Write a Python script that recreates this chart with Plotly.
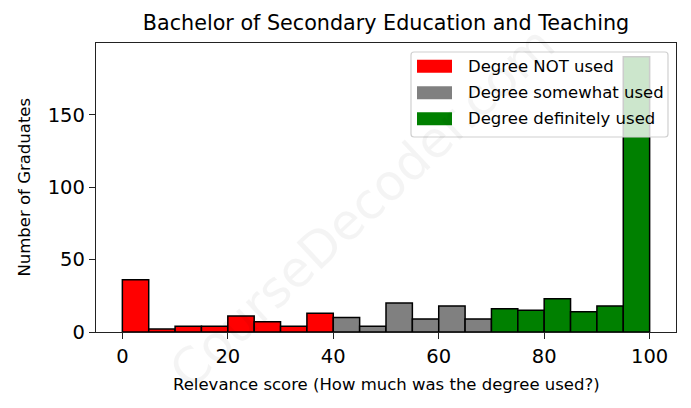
import plotly.graph_objects as go

bin_starts = [0, 5, 10, 15, 20, 25, 30, 35, 40, 45, 50, 55, 60, 65, 70, 75, 80, 85, 90, 95]
counts = [36, 2, 4, 4, 11, 7, 4, 13, 10, 4, 20, 9, 18, 9, 16, 15, 23, 14, 18, 190]
bin_width = 5
categories = ["Degree NOT used", "Degree somewhat used", "Degree definitely used"]
cat_colors = ["red", "gray", "green"]
cat_bounds = [(0, 40), (40, 70), (70, 100)]
x_ticks = [0, 20, 40, 60, 80, 100]
y_ticks = [0, 50, 100, 150]

OFF = 8  # page body margin in the browser
W, H = 691 - OFF, 408 - OFF
# plot area in reference-screen pixels
SL, SR, ST, SB = 96, 676, 43, 332
L, R, T, B = SL - OFF, SR - OFF, ST - OFF, SB - OFF
PW, PH = R - L, B - T


def px(X):
    return (X - SL) / PW


def py(Y):
    return (SB - Y) / PH


fig = go.Figure()
for name, color, (lo, hi) in zip(categories, cat_colors, cat_bounds):
    xs = [s + bin_width / 2 for s in bin_starts if lo <= s < hi]
    ys = [c for s, c in zip(bin_starts, counts) if lo <= s < hi]
    fig.add_trace(go.Bar(x=xs, y=ys, width=bin_width, name=name,
                         marker=dict(color=color, line=dict(color="black", width=1.5)),
                         showlegend=False))

font_family = "DejaVu Sans"

# manual legend (matplotlib-style)
shapes = []
annotations = []
x0, x1, y0, y1 = 411, 668, 52, 137
r = 3
path = (f"M{px(x0 + r)},{py(y0)} L{px(x1 - r)},{py(y0)} Q{px(x1)},{py(y0)} {px(x1)},{py(y0 + r)} "
        f"L{px(x1)},{py(y1 - r)} Q{px(x1)},{py(y1)} {px(x1 - r)},{py(y1)} "
        f"L{px(x0 + r)},{py(y1)} Q{px(x0)},{py(y1)} {px(x0)},{py(y1 - r)} "
        f"L{px(x0)},{py(y0 + r)} Q{px(x0)},{py(y0)} {px(x0 + r)},{py(y0)} Z")
shapes.append(dict(type="path", xref="paper", yref="paper", path=path,
                   fillcolor="rgba(255,255,255,0.8)", line=dict(color="#d0d0d0", width=1.2)))
row_centers = [66.3, 92.7, 118.7]
for name, color, yc in zip(categories, cat_colors, row_centers):
    shapes.append(dict(type="rect", xref="paper", yref="paper",
                       x0=px(417), x1=px(452), y0=py(yc + 6.5), y1=py(yc - 6.5),
                       fillcolor=color, line=dict(width=0)))
    annotations.append(dict(text=name, x=px(466), y=py(yc), xref="paper", yref="paper",
                            xanchor="left", yanchor="middle", showarrow=False,
                            font=dict(size=16.5, color="black")))

# axis titles
annotations.append(dict(text="Relevance score (How much was the degree used?)", x=0.5, y=0,
                        xref="paper", yref="paper", xanchor="center", yanchor="middle",
                        yshift=-(384 - SB), showarrow=False, font=dict(size=16.5, color="black")))
annotations.append(dict(text="Number of Graduates", x=0, y=0.5, xref="paper", yref="paper",
                        xanchor="center", yanchor="middle", xshift=-(SL - 24), textangle=-90,
                        showarrow=False, font=dict(size=16.5, color="black")))
# watermark
annotations.append(dict(text="CourseDecoder.com", x=px(362), y=py(208), xref="paper", yref="paper",
                        xanchor="center", yanchor="middle", showarrow=False, textangle=-43,
                        font=dict(size=50, color="rgba(0,0,0,0.045)")))

fig.update_layout(
    width=W, height=H,
    margin=dict(l=L, r=W - R, t=T, b=H - B, autoexpand=False),
    plot_bgcolor="white", paper_bgcolor="white",
    font=dict(family=font_family, color="black"),
    title=dict(text="Bachelor of Secondary Education and Teaching", x=0.5, xref="paper",
               xanchor="center", y=1 - (23 - OFF) / H, yanchor="middle", font=dict(size=20.7)),
    barmode="overlay",
    showlegend=False,
    xaxis=dict(range=[-5, 105], tickvals=x_ticks, showgrid=False, zeroline=False, automargin=False,
               showline=True, linecolor="#222", linewidth=1.3, mirror=True,
               ticks="outside", ticklen=6, tickwidth=1.3, tickcolor="#222", tickfont=dict(size=19.5)),
    yaxis=dict(range=[0, 199.5], tickvals=y_ticks, showgrid=False, zeroline=False, automargin=False,
               showline=True, linecolor="#222", linewidth=1.3, mirror=True,
               ticks="outside", ticklen=6, tickwidth=1.3, tickcolor="#222", tickfont=dict(size=19.5)),
    shapes=shapes,
    annotations=annotations,
)

fig.write_html("out.html")
